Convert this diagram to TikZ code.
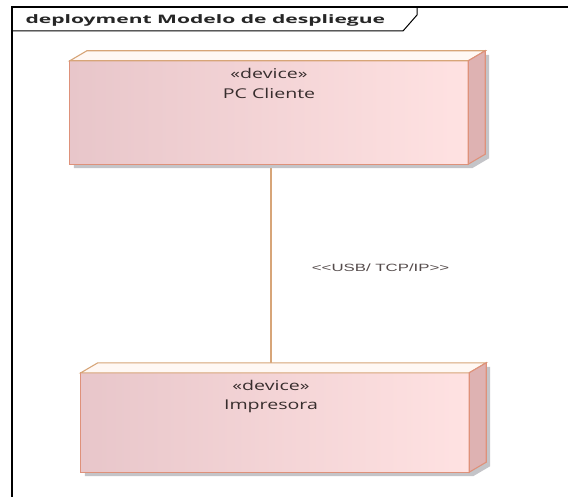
\documentclass[tikz,border=0pt]{standalone}
\usepackage{fontspec}
\usepackage{tikz}
\usetikzlibrary{positioning}
\newfontfamily\eafont[FakeStretch=1.45]{Open Sans}
\newfontfamily\eatitulo[FakeStretch=1.8]{Open Sans}
\newfontfamily\lblfont[FakeStretch=1.6]{Liberation Sans}
\definecolor{devleft}{RGB}{232,198,202}
\definecolor{devright}{RGB}{255,226,226}
\definecolor{devborda}{RGB}{222,145,122}
\definecolor{devtopo}{RGB}{255,248,244}
\definecolor{devlado}{RGB}{222,178,178}
\definecolor{devlinha}{RGB}{215,165,120}
\definecolor{devsombra}{RGB}{196,196,200}
\definecolor{devtexto}{RGB}{55,45,45}

\tikzset{
  devbox/.style={rectangle, minimum width=#1, inner sep=0pt},
  devtext/.style={anchor=north, align=center, text=devtexto, font=\eafont\fontsize{13.5}{22}\selectfont},
  conector/.style={draw=devlinha, line width=1.2pt},
  rotulo/.style={anchor=west, text=devtexto!85, font=\lblfont\fontsize{10.5}{12}\selectfont}
}

% frente, sombra e faces de cima e do lado do no
\newcommand{\devfaces}[1]{%
  \fill[devsombra] ([xshift=4pt,yshift=-4pt]#1.north west) -- ([xshift=21pt,yshift=6pt]#1.north east)
    -- ([xshift=21pt,yshift=6pt]#1.south east) -- ([xshift=4pt,yshift=-4pt]#1.south east)
    -- ([xshift=4pt,yshift=-4pt]#1.south west) -- cycle;
  \shade[left color=devleft, right color=devright] (#1.south west) rectangle (#1.north east);
  \draw[devborda, line width=1.1pt] (#1.south west) rectangle (#1.north east);
  \draw[devlinha, line width=1.1pt, fill=devtopo] (#1.north west) -- ([xshift=17pt,yshift=10pt]#1.north west)
    -- ([xshift=17pt,yshift=10pt]#1.north east) -- (#1.north east) -- cycle;
  \draw[devborda, line width=1.1pt, fill=devlado] (#1.north east) -- ([xshift=17pt,yshift=10pt]#1.north east)
    -- ([xshift=17pt,yshift=10pt]#1.south east) -- (#1.south east) -- cycle;
}

\begin{document}
\begin{tikzpicture}[x=1pt, y=-1pt]
  \useasboundingbox[fill=white] (0,0) rectangle (568,497);

  % moldura
  \draw[line width=1.3pt] (570,7) -- (12,7) -- (12,499);
  \draw[line width=1pt] (12,31) -- (403,31) -- (417,15) -- (417,7);
  \node[anchor=base west, text=black!85, font=\eatitulo\bfseries\fontsize{11.7}{14}\selectfont] (titulo) at (22,24)
    {deployment Modelo de despliegue};

  % nos
  \node[devbox=398pt, minimum height=103pt] (pc) at (269,112.5) {};
  \node[devbox=388pt, minimum height=99pt] (impressora) at (275,422.5) {};
  \draw[conector] ([xshift=2pt]pc.south) -- ([xshift=2pt,yshift=10pt]pc.south |- impressora.north)
    node[pos=0.52, rotulo, xshift=37pt] (usb) {<{}<USB/ TCP/IP>{}>};
  \devfaces{pc}
  \devfaces{impressora}
  \node[devtext] (pctxt) at ([yshift=-4pt]pc.north) {«device»\\[-2pt]PC Cliente};
  \node[devtext] (imptxt) at ([yshift=-4pt,xshift=-4pt]impressora.north) {«device»\\[-3pt]Impresora};
\end{tikzpicture}
\end{document}
